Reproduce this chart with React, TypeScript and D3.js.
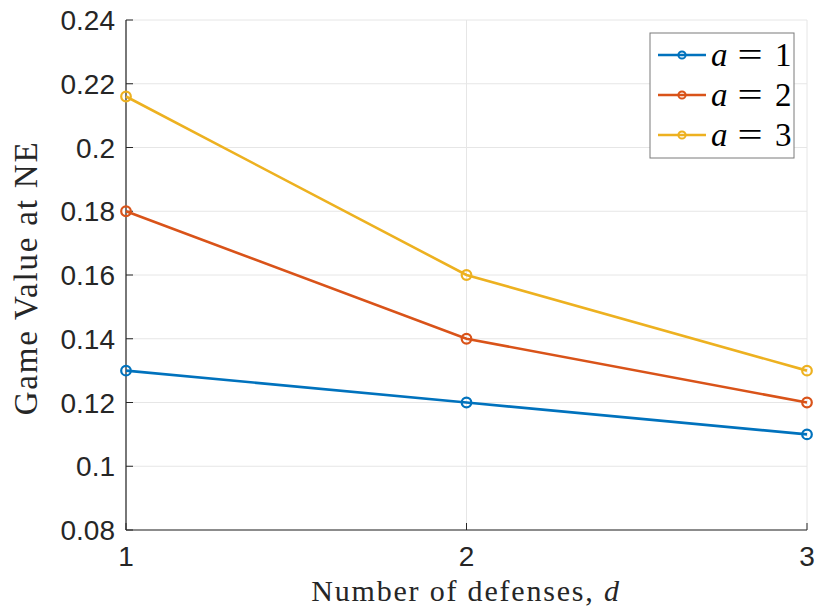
import React from "react";
import * as d3 from "d3";

const xValues = [1, 2, 3];
const seriesNames = ["1", "2", "3"];
const seriesA1 = [0.13, 0.12, 0.11];
const seriesA2 = [0.18, 0.14, 0.12];
const seriesA3 = [0.216, 0.16, 0.13];
const colors = ["#0072BD", "#D95319", "#EDB120"];
const yTicks = [0.08, 0.1, 0.12, 0.14, 0.16, 0.18, 0.2, 0.22, 0.24];
const yTickLabels = ["0.08", "0.1", "0.12", "0.14", "0.16", "0.18", "0.2", "0.22", "0.24"];
const xTicks = [1, 2, 3];

export default function App() {
  const W = 816, H = 613;
  const left = 126, right = 807, top = 20, bottom = 530;
  const x = d3.scaleLinear().domain([1, 3]).range([left, right]);
  const y = d3.scaleLinear().domain([0.08, 0.24]).range([bottom, top]);
  const series = [seriesA1, seriesA2, seriesA3];
  const line = d3.line<number>().x((_, i) => x(xValues[i])).y((d) => y(d));
  const tickFont = "'Liberation Sans', Arial, Helvetica, sans-serif";
  const serif = "'Liberation Serif', 'Times New Roman', serif";

  const legX = 650, legY = 33, legW = 144, legH = 125;
  const rowYs = [55, 95, 135];

  return (
    <svg width={W} height={H} style={{ position: "absolute", left: 0, top: 0, background: "#fff" }}>
      <rect x={0} y={0} width={W} height={H} fill="#fff" />
      {/* grid */}
      {yTicks.map((t) => (
        <line key={"gy" + t} x1={left} x2={right} y1={y(t)} y2={y(t)} stroke="#e6e6e6" strokeWidth={1} />
      ))}
      {xTicks.map((t) => (
        <line key={"gx" + t} x1={x(t)} x2={x(t)} y1={top} y2={bottom} stroke="#e6e6e6" strokeWidth={1} />
      ))}
      {/* axes */}
      <line x1={left} x2={left} y1={top} y2={bottom} stroke="#262626" strokeWidth={1.2} />
      <line x1={left} x2={right} y1={bottom} y2={bottom} stroke="#262626" strokeWidth={1.2} />
      {yTicks.map((t, i) => (
        <g key={"ty" + t}>
          <line x1={left} x2={left + 7} y1={y(t)} y2={y(t)} stroke="#262626" strokeWidth={1} />
          <text x={left - 11} y={y(t)} dy="0.36em" textAnchor="end" fontFamily={tickFont} fontSize={28} fill="#262626">
            {yTickLabels[i]}
          </text>
        </g>
      ))}
      {xTicks.map((t) => (
        <g key={"tx" + t}>
          <line x1={x(t)} x2={x(t)} y1={bottom} y2={bottom - 7} stroke="#262626" strokeWidth={1} />
          <text x={x(t)} y={556} dy="0.36em" textAnchor="middle" fontFamily={tickFont} fontSize={28} fill="#262626">
            {t}
          </text>
        </g>
      ))}
      {/* series */}
      {series.map((s, k) => (
        <g key={"s" + k}>
          <path d={line(s) || ""} fill="none" stroke={colors[k]} strokeWidth={2.6} />
          {s.map((v, i) => (
            <circle key={i} cx={x(xValues[i])} cy={y(v)} r={4.8} fill="none" stroke={colors[k]} strokeWidth={2.2} />
          ))}
        </g>
      ))}
      {/* axis labels */}
      <text x={466} y={601} textAnchor="middle" fontFamily={serif} fontSize={30} letterSpacing={1.8} fill="#262626">
        Number of defenses, <tspan fontStyle="italic">d</tspan>
      </text>
      <text transform={`translate(37,278) rotate(-90)`} textAnchor="middle" fontFamily={serif} fontSize={33} letterSpacing={1.8} fill="#262626">
        Game Value at NE
      </text>
      {/* legend */}
      <rect x={legX} y={legY} width={legW} height={legH} fill="#fff" stroke="#7a7a7a" strokeWidth={1} />
      {seriesNames.map((n, k) => (
        <g key={"l" + k}>
          <line x1={658} x2={706} y1={rowYs[k]} y2={rowYs[k]} stroke={colors[k]} strokeWidth={2.4} />
          <circle cx={682} cy={rowYs[k]} r={3.6} fill="none" stroke={colors[k]} strokeWidth={2} />
          <text x={711} y={rowYs[k] + 11} fontFamily={serif} fontSize={33} fontStyle="italic" fill="#000">a</text>
          <text x={750} y={rowYs[k] + 11} textAnchor="middle" fontFamily={serif} fontSize={33} fill="#000" transform={`translate(750,0) scale(1.35,1) translate(-750,0)`}>=</text>
          <text x={775} y={rowYs[k] + 11} fontFamily={serif} fontSize={33} fill="#000">{n}</text>
        </g>
      ))}
    </svg>
  );
}
